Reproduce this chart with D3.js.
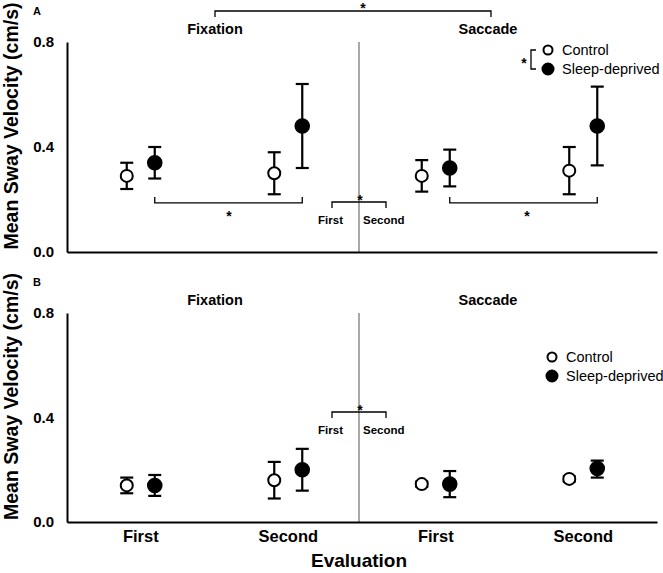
<!DOCTYPE html>
<html><head><meta charset="utf-8">
<script src="https://cdn.jsdelivr.net/npm/d3@7"></script>
<style>
body{margin:0;background:#fff}
text{font-family:"Liberation Sans",Arial,sans-serif;fill:#000}
</style>
</head><body>
<svg id="chart" width="663" height="573"></svg>
<script>
// ---------- data ----------
const categories = ["Fixation First","Fixation Second","Saccade First","Saccade Second"];
const tasks = ["Fixation","Saccade"];
const groups = ["Control","Sleep-deprived"];
const yTicks = [0.0, 0.4, 0.8];

// Panel A
const controlA    = [0.29, 0.30, 0.29, 0.31];
const controlA_lo = [0.24, 0.22, 0.23, 0.22];
const controlA_hi = [0.34, 0.38, 0.35, 0.40];
const sleepA      = [0.34, 0.48, 0.32, 0.48];
const sleepA_lo   = [0.28, 0.32, 0.25, 0.33];
const sleepA_hi   = [0.40, 0.64, 0.39, 0.63];

// Panel B
const controlB    = [0.14, 0.16, 0.145, 0.165];
const controlB_lo = [0.11, 0.09, 0.135, 0.155];
const controlB_hi = [0.17, 0.23, 0.155, 0.175];
const sleepB      = [0.14, 0.20, 0.145, 0.205];
const sleepB_lo   = [0.10, 0.12, 0.095, 0.17];
const sleepB_hi   = [0.18, 0.28, 0.195, 0.235];

// ---------- layout ----------
const svg = d3.select("#chart");
const left = 67, right = 657;
const x = d3.scaleBand().domain(categories).range([left, right]).padding(0);
const xg = d3.scalePoint().domain(groups).range([-14, 14]);
const cx = (c, g) => x(c) + x.bandwidth() / 2 + xg(g);
const divider = x("Saccade First") - 3;

const panels = [
  {label: "A", top: 42, bottom: 252, ctrl: [controlA, controlA_lo, controlA_hi], sd: [sleepA, sleepA_lo, sleepA_hi], showX: false},
  {label: "B", top: 313, bottom: 522, ctrl: [controlB, controlB_lo, controlB_hi], sd: [sleepB, sleepB_lo, sleepB_hi], showX: true}
];

function star(g, px, py, size) {
  g.append("text").attr("x", px).attr("y", py).attr("text-anchor", "middle")
    .attr("font-size", size || 14).attr("font-weight", "bold").text("*");
}
function bracket(g, x1, x2, yy, dir) {
  g.append("path").attr("d", `M${x1},${yy + dir}V${yy}H${x2}V${yy + dir}`)
    .attr("fill", "none").attr("stroke", "#000").attr("stroke-width", 1.3);
}

panels.forEach((p, pi) => {
  const y = d3.scaleLinear().domain([0, 0.8]).range([p.bottom, p.top]);
  const g = svg.append("g");

  // divider line
  g.append("line").attr("x1", divider).attr("x2", divider)
    .attr("y1", p.top).attr("y2", p.bottom)
    .attr("stroke", "#8c8c8c").attr("stroke-width", 1.5);

  // y axis
  const ya = g.append("g").attr("transform", `translate(${left},0)`)
    .call(d3.axisLeft(y).tickValues(yTicks).tickFormat(d3.format(".1f")).tickSize(0).tickPadding(13));
  ya.select(".domain").attr("stroke", "#000").attr("stroke-width", 2);
  ya.selectAll("text").attr("font-size", 15).attr("font-weight", "bold")
    .attr("font-family", '"Liberation Sans",Arial,sans-serif').attr("fill", "#000");

  // x axis
  const xa = g.append("g").attr("transform", `translate(0,${p.bottom})`)
    .call(d3.axisBottom(x).tickSize(0).tickPadding(8).tickFormat(d => p.showX ? d.split(" ")[1] : ""));
  xa.select(".domain").attr("stroke", "#000").attr("stroke-width", 2);
  xa.selectAll("text").attr("font-size", 16.5).attr("font-weight", "bold")
    .attr("font-family", '"Liberation Sans",Arial,sans-serif').attr("fill", "#000");

  // y title
  g.append("text").attr("transform", `translate(18,${(p.top + p.bottom) / 2 - 21}) rotate(-90)`)
    .attr("text-anchor", "middle").attr("font-size", 19.5).attr("font-weight", "bold")
    .text("Mean Sway Velocity (cm/s)");

  // panel letter
  g.append("text").attr("x", 33).attr("y", p.top - 27).attr("font-size", 11).attr("font-weight", "bold").text(p.label);

  // task titles
  [[tasks[0], 215], [tasks[1], 488]].forEach(([t, tx]) => {
    g.append("text").attr("x", tx).attr("y", p.top - 8).attr("text-anchor", "middle")
      .attr("font-size", 14.5).attr("font-weight", "bold").text(t);
  });

  // data
  [["Control", p.ctrl], ["Sleep-deprived", p.sd]].forEach(([grp, arr]) => {
    const [m, lo, hi] = arr;
    categories.forEach((c, i) => {
      const X = cx(c, grp);
      g.append("line").attr("x1", X).attr("x2", X).attr("y1", y(lo[i])).attr("y2", y(hi[i]))
        .attr("stroke", "#000").attr("stroke-width", 2.2);
      [lo[i], hi[i]].forEach(v => {
        g.append("line").attr("x1", X - 6.5).attr("x2", X + 6.5).attr("y1", y(v)).attr("y2", y(v))
          .attr("stroke", "#000").attr("stroke-width", 2.2);
      });
    });
    categories.forEach((c, i) => {
      g.append("circle").attr("cx", cx(c, grp)).attr("cy", y(m[i])).attr("r", grp === "Control" ? 6 : 6.8)
        .attr("fill", grp === "Control" ? "#fff" : "#000").attr("stroke", "#000").attr("stroke-width", 2);
    });
  });

  // middle First/Second bracket
  const by = pi === 0 ? p.top + 160 : p.top + 99;
  bracket(g, divider - 27, divider + 27, by, 6);
  star(g, divider + 1, by + 3, 14);
  g.append("text").attr("x", divider - 16).attr("y", by + 22).attr("text-anchor", "end")
    .attr("font-size", 11.5).attr("font-weight", "bold").text("First");
  g.append("text").attr("x", divider + 4).attr("y", by + 22).attr("text-anchor", "start")
    .attr("font-size", 11.5).attr("font-weight", "bold").text("Second");

  // legend
  const lx = pi === 0 ? 548 : 552, ly = pi === 0 ? p.top + 8 : p.top + 44;
  groups.forEach((grp, k) => {
    g.append("circle").attr("cx", lx).attr("cy", ly + k * 19).attr("r", grp === "Control" ? 4.5 : 5.5)
      .attr("fill", grp === "Control" ? "#fff" : "#000").attr("stroke", "#000").attr("stroke-width", 2);
    g.append("text").attr("x", lx + 14).attr("y", ly + k * 19 + 5).attr("font-size", 14.5).text(grp);
  });

  if (pi === 0) {
    // legend bracket
    g.append("path").attr("d", `M${lx - 12},${ly}H${lx - 17}V${ly + 19}H${lx - 12}`)
      .attr("fill", "none").attr("stroke", "#000").attr("stroke-width", 1.3);
    star(g, lx - 24, ly + 18, 14);
    // top bracket Fixation vs Saccade
    bracket(g, 215, 491, 11, 6);
    star(g, 363, 13, 14);
    // lower brackets (first vs second within sleep-deprived)
    const ly2 = y(0.187);
    bracket(g, cx("Fixation First", "Sleep-deprived"), cx("Fixation Second", "Sleep-deprived"), ly2, -6);
    star(g, 229, ly2 + 18, 14);
    bracket(g, cx("Saccade First", "Sleep-deprived"), cx("Saccade Second", "Sleep-deprived"), ly2, -6);
    star(g, 527, ly2 + 18, 14);
  }
});

// x title
svg.append("text").attr("x", 359).attr("y", 567).attr("text-anchor", "middle")
  .attr("font-size", 19).attr("font-weight", "bold").text("Evaluation");
</script>
</body></html>
